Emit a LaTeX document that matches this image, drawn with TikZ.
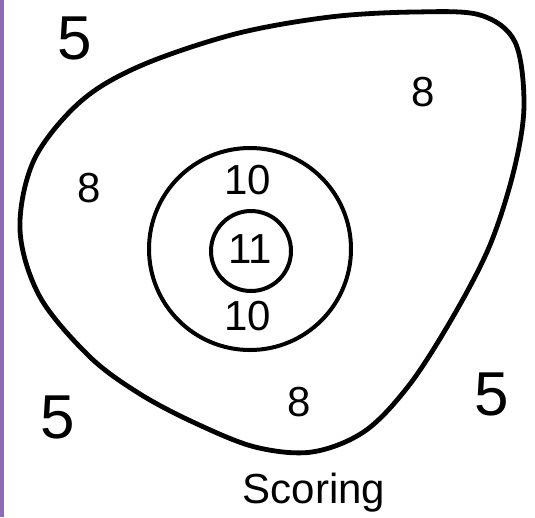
\documentclass[tikz,border=0pt]{standalone}
\usepackage{fontspec}
\setmainfont{Liberation Sans}
\definecolor{strip}{RGB}{140,108,180}
\begin{document}
\begin{tikzpicture}[x=1pt,y=-1pt,
  big/.style={inner sep=0pt,font=\fontsize{62}{62}\selectfont},
  mid/.style={inner sep=0pt,font=\fontsize{42}{42}\selectfont},
  ring/.style={line width=4pt},
  blob/.style={line width=4.8pt,line join=round}]
\fill[white] (0,0) rectangle (535,517);
\useasboundingbox (0,0) rectangle (535,517);
\fill[strip] (0,0) rectangle (3.5,517);
% outer blob
\draw[blob] plot[smooth cycle,tension=0.55] coordinates {
  (330,17) (415,12) (480,15) (515,42) (524,105) (514,170) (490,245)
  (454,315) (410,384) (365,431) (312,452) (255,447) (195,423)
  (140,394) (90,357) (40,297) (20,230) (34,160) (80,102) (140,66) (235,34)};
% rings
\draw[ring] (250,249) circle (101);
\draw[ring] (251,251) circle (40);
% labels
\node[big] (s1) at (75,38) {5};
\node[big] (s2) at (58,417) {5};
\node[big] (s3) at (492,394) {5};
\node[mid] (e1) at (423,92) {8};
\node[mid] (e2) at (89,188) {8};
\node[mid] (e3) at (299,402) {8};
\node[mid] (t1) at (248,180) {10};
\node[mid] (t2) at (248,316) {10};
\node[mid] (el) at (250,249) {11};
\node[mid,anchor=base] (sc) at (314,503) {Scoring};
\end{tikzpicture}
\end{document}
